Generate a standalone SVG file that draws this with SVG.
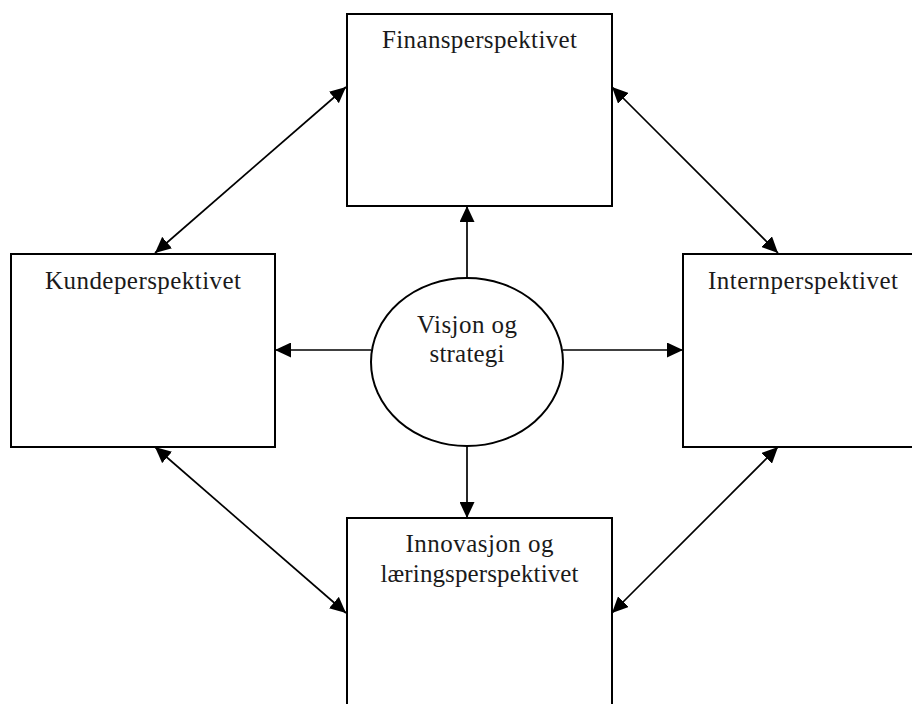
<svg xmlns="http://www.w3.org/2000/svg" width="912" height="704" viewBox="0 0 912 704">
<style>
.box{fill:#fff;stroke:#000;stroke-width:2}
.lbl{font-family:"Liberation Serif","DejaVu Serif",serif;font-size:25px;fill:#1a1a1a;text-anchor:middle}
.con{stroke:#000;stroke-width:1.7;fill:none}
</style>
<defs>
<marker id="ah" markerUnits="userSpaceOnUse" markerWidth="16" markerHeight="15" viewBox="0 0 16 15" refX="16" refY="7.5" orient="auto-start-reverse">
<path d="M0,0 L16,7.5 L0,15 z" fill="#000"/>
</marker>
</defs>
<rect width="912" height="704" fill="#fff"/>
<g id="finans">
<rect class="box" x="347" y="14" width="265" height="192"/>
<text class="lbl" x="479.5" y="48" textLength="195" lengthAdjust="spacing">Finansperspektivet</text>
</g>
<g id="kunde">
<rect class="box" x="11" y="254" width="264" height="193"/>
<text class="lbl" x="143" y="289" textLength="196" lengthAdjust="spacing">Kundeperspektivet</text>
</g>
<g id="intern">
<rect class="box" x="683" y="254" width="240" height="193"/>
<text class="lbl" x="803" y="289" textLength="190" lengthAdjust="spacing">Internperspektivet</text>
</g>
<g id="innovasjon">
<rect class="box" x="347" y="518" width="265" height="200"/>
<text class="lbl" x="479.5" y="552" textLength="148" lengthAdjust="spacing">Innovasjon og</text>
<text class="lbl" x="479.5" y="582" textLength="198" lengthAdjust="spacing">læringsperspektivet</text>
</g>
<g id="visjon">
<ellipse class="box" cx="467" cy="362" rx="96" ry="84"/>
<text class="lbl" x="467" y="333" textLength="100" lengthAdjust="spacing">Visjon og</text>
<text class="lbl" x="467" y="362" textLength="75" lengthAdjust="spacing">strategi</text>
</g>
<g id="connectors">
<line class="con" x1="467" y1="278" x2="467" y2="206" marker-end="url(#ah)"/>
<line class="con" x1="467" y1="446" x2="467" y2="518" marker-end="url(#ah)"/>
<line class="con" x1="371" y1="350" x2="275" y2="350" marker-end="url(#ah)"/>
<line class="con" x1="563" y1="350" x2="683" y2="350" marker-end="url(#ah)"/>
<line class="con" x1="155" y1="253" x2="346" y2="87" marker-start="url(#ah)" marker-end="url(#ah)"/>
<line class="con" x1="612" y1="87" x2="778" y2="253" marker-start="url(#ah)" marker-end="url(#ah)"/>
<line class="con" x1="155" y1="447" x2="346" y2="613" marker-start="url(#ah)" marker-end="url(#ah)"/>
<line class="con" x1="778" y1="447" x2="612" y2="613" marker-start="url(#ah)" marker-end="url(#ah)"/>
</g>
</svg>
